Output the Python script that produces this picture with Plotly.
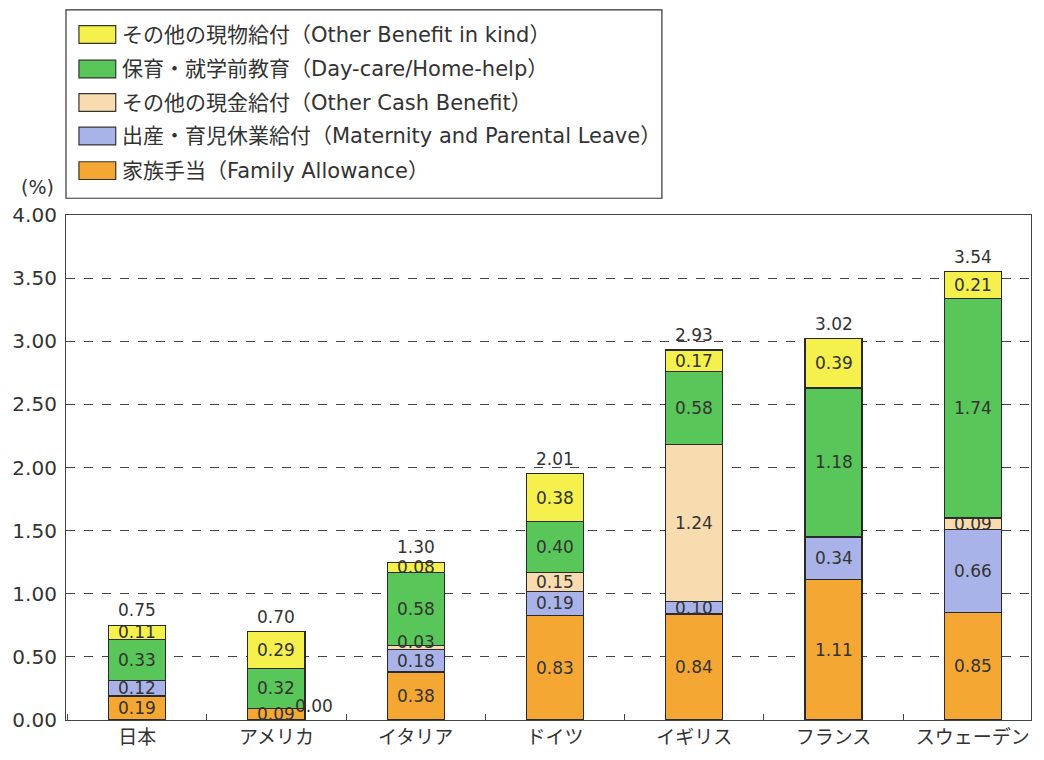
import plotly.graph_objects as go

countries = ["日本", "アメリカ", "イタリア", "ドイツ", "イギリス", "フランス", "スウェーデン"]

# series (bottom to top); None = segment absent / not labelled
family_allowance = [0.19, 0.09, 0.38, 0.83, 0.84, 1.11, 0.85]
maternity_leave = [0.12, 0.00, 0.18, 0.19, 0.10, 0.34, 0.66]
other_cash = [None, None, 0.03, 0.15, 1.24, None, 0.09]
day_care = [0.33, 0.32, 0.58, 0.40, 0.58, 1.18, 1.74]
other_in_kind = [0.11, 0.29, 0.08, 0.38, 0.17, 0.39, 0.21]
totals = [0.75, 0.70, 1.30, 2.01, 2.93, 3.02, 3.54]

series_names = [
    "家族手当（Family Allowance）",
    "出産・育児休業給付（Maternity and Parental Leave）",
    "その他の現金給付（Other Cash Benefit）",
    "保育・就学前教育（Day-care/Home-help）",
    "その他の現物給付（Other Benefit in kind）",
]
series_values = [family_allowance, maternity_leave, other_cash, day_care, other_in_kind]
series_colors = ["#f5a733", "#a9b3e9", "#f8dcb0", "#58c658", "#f5f04c"]

y_ticks = [0, 0.5, 1.0, 1.5, 2.0, 2.5, 3.0, 3.5, 4.0]

FONT = "DejaVu Sans, Noto Sans CJK JP, sans-serif"
TXT = "#333333"

fig = go.Figure()
for name, vals, col in zip(series_names, series_values, series_colors):
    fig.add_trace(go.Bar(
        x=countries, y=[v if v is not None else 0 for v in vals], name=name, width=0.41,
        marker=dict(color=col, line=dict(color="#2a2a2a", width=1.2)),
        showlegend=False, hoverinfo="skip",
    ))

annotations = []
# segment labels
cum = [0.0] * len(countries)
for vals in series_values:
    for i, v in enumerate(vals):
        if v is None:
            continue
        if v == 0:
            annotations.append(dict(x=countries[i], y=cum[i], text=f"{v:.2f}", showarrow=False,
                                    xshift=38, yshift=3, font=dict(size=17, color=TXT, family=FONT)))
        else:
            annotations.append(dict(x=countries[i], y=cum[i] + v / 2, text=f"{v:.2f}", showarrow=False,
                                    yshift=5 if v < 0.05 else 0,
                                    font=dict(size=17, color=TXT, family=FONT)))
        cum[i] += v
# totals
for i, t in enumerate(totals):
    annotations.append(dict(x=countries[i], y=cum[i], text=f"{t:.2f}", showarrow=False,
                            yanchor="bottom", yshift=3, font=dict(size=17, color=TXT, family=FONT)))

# unit label
annotations.append(dict(xref="paper", yref="paper", x=-0.03, y=1.056, text="(%)", showarrow=False,
                        xanchor="center", yanchor="middle", font=dict(size=19, color=TXT, family=FONT)))

# manual legend (top to bottom = reversed series order)
shapes = []
W, H = 970.0, 512.0
def px2paper(px, py):
    return (px - 62) / W, (727 - py) / H

x0, y0 = px2paper(62, 7)
x1, y1 = px2paper(661, 198)
shapes.append(dict(type="rect", xref="paper", yref="paper", x0=x0, y0=y1, x1=x1, y1=y0,
                   line=dict(color="#333333", width=1.2), fillcolor="white"))
row_y = [32, 67, 101, 135, 170]
for k, (name, col) in enumerate(zip(series_names[::-1], series_colors[::-1])):
    cy = row_y[k]
    sx0, sy0 = px2paper(75, cy - 9)
    sx1, sy1 = px2paper(112, cy + 9)
    shapes.append(dict(type="rect", xref="paper", yref="paper", x0=sx0, y0=sy1, x1=sx1, y1=sy0,
                       fillcolor=col, line=dict(color="#333333", width=1.2)))
    tx, ty = px2paper(116, cy)
    annotations.append(dict(xref="paper", yref="paper", x=tx, y=ty, text=name, showarrow=False,
                            xanchor="left", yanchor="middle",
                            font=dict(size=21, color=TXT, family=FONT)))

fig.update_layout(
    width=1044, height=760,
    margin=dict(l=62, r=12, t=215, b=33),
    barmode="stack",
    plot_bgcolor="white", paper_bgcolor="white",
    font=dict(family=FONT, size=17, color=TXT),
    annotations=annotations, shapes=shapes,
    showlegend=False,
)
fig.update_yaxes(range=[0, 4.0], tickvals=y_ticks, tickformat=".2f",
                 showgrid=True, gridcolor="#444444", griddash="dash", gridwidth=1,
                 zeroline=False, showline=True, linecolor="#444444", linewidth=1.2, mirror=True,
                 ticks="", ticklabelstandoff=4, tickfont=dict(size=20, color=TXT, family=FONT))
fig.update_xaxes(range=[-0.511, 6.418],
                 showline=True, linecolor="#444444", linewidth=1.2, mirror=True,
                 ticks="inside", tickson="boundaries", ticklen=6, tickcolor="#444444",
                 tickfont=dict(size=19, color=TXT, family=FONT))

# remove the browser's default 8px body margin so the figure starts at the page corner
fig.write_html("out.html", config={"displayModeBar": False},
               post_script="document.body.style.margin='0px';")
